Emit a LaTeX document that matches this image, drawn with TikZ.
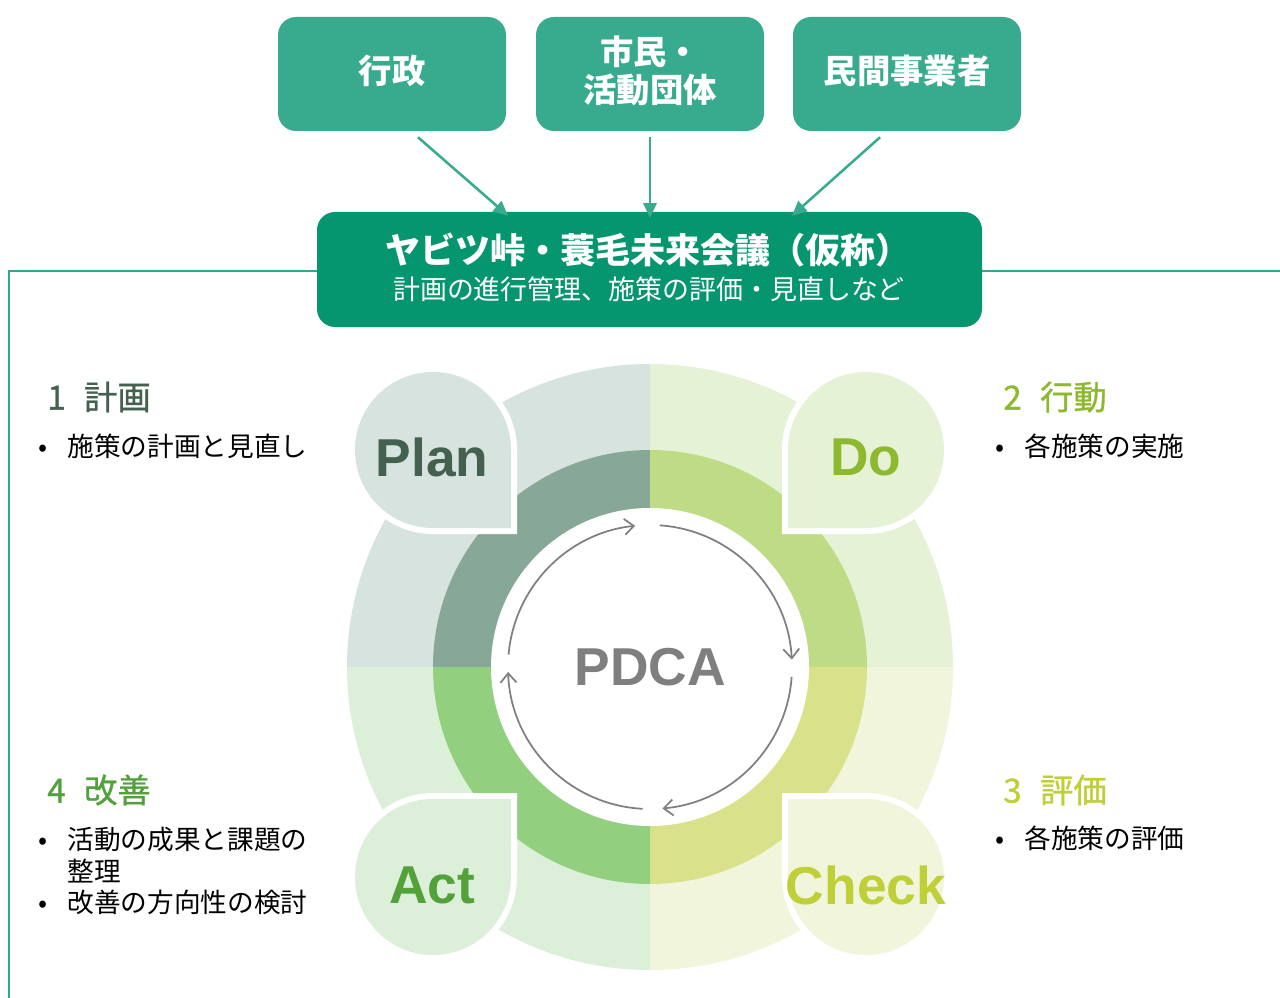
\documentclass[tikz,border=0pt]{standalone}
\usepackage{fontspec}
\setmainfont{Liberation Sans}
\newfontfamily\cjk{Noto Sans CJK JP}
\newfontfamily\cjkmed[FakeBold=0.9]{Noto Sans CJK JP}
\usetikzlibrary{arrows.meta,calc}
\definecolor{teal1}{HTML}{38AB8F}
\definecolor{teal2}{HTML}{06966F}
\definecolor{framec}{HTML}{2DA98B}
\definecolor{plL}{HTML}{D7E3DE}
\definecolor{plD}{HTML}{87A896}
\definecolor{plT}{HTML}{446150}
\definecolor{doL}{HTML}{E6F2D5}
\definecolor{doD}{HTML}{BEDC85}
\definecolor{doT}{HTML}{8DB92F}
\definecolor{chL}{HTML}{F1F5DB}
\definecolor{chD}{HTML}{D9E28B}
\definecolor{chT}{HTML}{BFCF38}
\definecolor{acL}{HTML}{DCEFD8}
\definecolor{acD}{HTML}{92D07F}
\definecolor{acT}{HTML}{53A13A}
\definecolor{cyc}{HTML}{7F7F7F}
\begin{document}
\begin{tikzpicture}[x=0.75pt,y=0.75pt,
  topbox/.style={fill=teal1, rounded corners=13.5pt, minimum width=171pt, minimum height=85.5pt,
    text=white, font=\cjk\bfseries\fontsize{25}{30}\selectfont, align=center, inner sep=0pt},
  mainbox/.style={fill=teal2, rounded corners=13.5pt, minimum width=498.75pt, minimum height=86.25pt,
    inner sep=0pt, text=white, align=center},
  feed/.style={teal1, line width=1.9pt, -{Triangle[length=11pt,width=10pt]}},
  cycarrow/.style={cyc, line width=1.3pt, -{Straight Barb[length=7pt,width=12pt]}},
  bubble/.style={preaction={draw=white,line width=9pt}},
  bigtxt/.style={font=\bfseries\fontsize{40}{40}\selectfont, inner sep=0pt},
  headtxt/.style={anchor=west, font=\cjkmed\fontsize{25}{30}\selectfont, inner sep=0pt},
  itemtxt/.style={anchor=west, font=\cjk\fontsize{20}{23.6}\selectfont, inner sep=0pt, text=black, align=left},
  frameline/.style={framec, line width=1.5pt}
]
\useasboundingbox (0,0) rectangle (1280,-998);
\fill[white] (0,0) rectangle (1280,-998);

% frame
\coordinate (fr1) at (1280,-271);
\coordinate (fr2) at (9,-271);
\coordinate (fr3) at (9,-998);
\draw[frameline] (fr1) -- (fr2) -- (fr3);

% top boxes
\node[topbox] (gyosei) at (392,-74) {\raisebox{2.5pt}[\height][\depth]{行政}};
\node[topbox] (shimin) at (650,-74) {\raisebox{2.5pt}[\height][\depth]{\shortstack{市民・\\[2pt]活動団体}}};
\node[topbox] (minkan) at (907,-74) {\raisebox{2.5pt}[\height][\depth]{民間事業者}};
\node[mainbox] (kaigi) at (649.5,-269.5) {};
\node[text=white, inner sep=0pt, font=\cjk\bfseries\fontsize{26.3}{30}\selectfont] (title) at (648,-250) {ヤビツ峠・蓑毛未来会議（仮称）};
\node[text=white, inner sep=0pt, font=\cjk\fontsize{20.2}{24}\selectfont] (subtitle) at (649,-289) {計画の進行管理、施策の評価・見直しなど};

\coordinate (g1) at ($(gyosei.south)+(26,-6)$);
\coordinate (g2) at ($(kaigi.north)+(-141.5,-4)$);
\coordinate (s1) at ($(shimin.south)+(0,-6)$);
\coordinate (s2) at ($(kaigi.north)+(0.5,-6)$);
\coordinate (m1) at ($(minkan.south)+(-27,-6)$);
\coordinate (m2) at ($(kaigi.north)+(142.5,-4)$);
\draw[feed] (g1) -- (g2);
\draw[feed] (s1) -- (s2);
\draw[feed] (m1) -- (m2);

% PDCA wheel
\coordinate (c) at (650,-667);
\fill[plL] (c) -- ++(180:303) arc[start angle=180,end angle=90,radius=303] -- cycle;
\fill[doL] (c) -- ++(90:303) arc[start angle=90,end angle=0,radius=303] -- cycle;
\fill[chL] (c) -- ++(0:303) arc[start angle=0,end angle=-90,radius=303] -- cycle;
\fill[acL] (c) -- ++(-90:303) arc[start angle=-90,end angle=-180,radius=303] -- cycle;
\fill[plD] (c) -- ++(180:217) arc[start angle=180,end angle=90,radius=217] -- cycle;
\fill[doD] (c) -- ++(90:217) arc[start angle=90,end angle=0,radius=217] -- cycle;
\fill[chD] (c) -- ++(0:217) arc[start angle=0,end angle=-90,radius=217] -- cycle;
\fill[acD] (c) -- ++(-90:217) arc[start angle=-90,end angle=-180,radius=217] -- cycle;
\fill[white] (c) circle[radius=159];

% cycle arrows
\draw[cycarrow] ($(c)+(175:142)$) arc[start angle=175,end angle=96,radius=142];
\draw[cycarrow] ($(c)+(86:142)$) arc[start angle=86,end angle=3,radius=142];
\draw[cycarrow] ($(c)+(-4:142)$) arc[start angle=-4,end angle=-85,radius=142];
\draw[cycarrow] ($(c)+(-93:142)$) arc[start angle=-93,end angle=-178,radius=142];

% bubbles
\fill[plL,bubble] (511,-450) -- (511,-528) -- (433,-528) arc[start angle=-90,end angle=-360,radius=78] -- cycle;
\fill[doL,bubble] (788,-450) -- (788,-528) -- (866,-528) arc[start angle=-90,end angle=180,radius=78] -- cycle;
\fill[chL,bubble] (788,-877) -- (788,-799) -- (866,-799) arc[start angle=90,end angle=-180,radius=78] -- cycle;
\fill[acL,bubble] (511,-877) -- (511,-799) -- (433,-799) arc[start angle=90,end angle=360,radius=78] -- cycle;

\node[bigtxt, text=plT] (plan) at (432,-457) {Plan};
\node[bigtxt, text=doT] (do) at (866,-457) {Do};
\node[bigtxt, text=chT] (check) at (866,-885) {Check};
\node[bigtxt, text=acT] (act) at (432,-885) {Act};
\node[bigtxt, text=cyc] (pdca) at (650,-667) {PDCA};

% side texts
\node[headtxt, text=plT] (h1) at (47,-397) {1\hspace{0.55em}計画};
\node[itemtxt] (i1) at (38,-446) {\makebox[22pt][l]{•}施策の計画と見直し};
\node[headtxt, text=doT] (h2) at (1003,-397) {2\hspace{0.55em}行動};
\node[itemtxt] (i2) at (995,-446) {\makebox[22pt][l]{•}各施策の実施};
\node[headtxt, text=chT] (h3) at (1003,-790) {3\hspace{0.55em}評価};
\node[itemtxt] (i3) at (995,-838) {\makebox[22pt][l]{•}各施策の評価};
\node[headtxt, text=acT] (h4) at (47,-790) {4\hspace{0.55em}改善};
\node[itemtxt] (i4) at (38,-871) {\makebox[22pt][l]{•}活動の成果と課題の\\\hspace*{22pt}整理\\\makebox[22pt][l]{•}改善の方向性の検討};
\end{tikzpicture}
\end{document}
